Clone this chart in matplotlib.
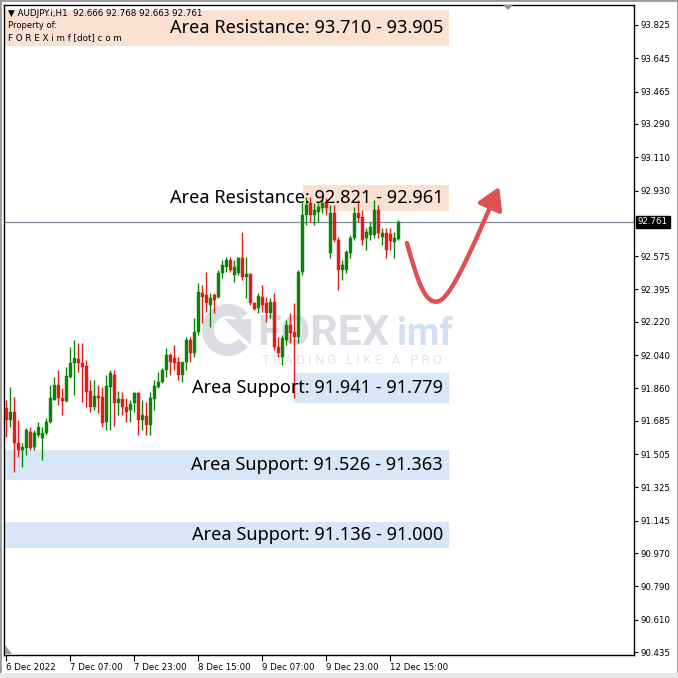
import matplotlib
matplotlib.use("Agg")
import matplotlib.pyplot as plt
from matplotlib.patches import Rectangle, FancyArrowPatch, Wedge, Polygon
from matplotlib.path import Path
from matplotlib.transforms import Affine2D, blended_transform_factory

# ---------------- data ----------------
symbol = "AUDJPY.i,H1"
header_values = "92.666 92.768 92.663 92.761"

opens = [91.754, 91.689, 91.733, 91.565, 91.527, 91.538, 91.624, 91.543, 91.608, 91.592,
         91.619, 91.679, 91.798, 91.879, 91.808, 91.792, 91.922, 91.998, 92.019, 91.998,
         91.981, 91.846, 91.760, 91.819, 91.814, 91.679, 91.868, 91.933, 91.781, 91.803,
         91.760, 91.743, 91.781, 91.835, 91.689, 91.711, 91.662, 91.803, 91.868, 91.895,
         91.960, 92.041, 92.024, 92.003, 91.933, 92.003, 92.122, 92.052, 92.165, 92.376,
         92.365, 92.311, 92.365, 92.354, 92.484, 92.516, 92.554, 92.473, 92.484, 92.565,
         92.463, 92.479, 92.322, 92.295, 92.354, 92.322, 92.268, 92.327, 92.084, 92.030,
         92.122, 92.203, 92.165, 92.138, 92.490, 92.798, 92.863, 92.798, 92.814, 92.836,
         92.868, 92.592, 92.809, 92.663, 92.500, 92.500, 92.592, 92.673, 92.809, 92.787,
         92.673, 92.690, 92.690, 92.825, 92.679, 92.700, 92.695, 92.652, 92.666]
highs = [91.798, 91.868, 91.814, 91.689, 91.565, 91.646, 91.651, 91.635, 91.679, 91.651,
         91.700, 91.879, 91.922, 91.960, 91.862, 91.976, 92.084, 92.122, 92.106, 92.106,
         92.014, 91.906, 91.906, 91.879, 91.868, 91.933, 91.960, 91.960, 91.846, 91.841,
         91.808, 91.798, 91.841, 91.841, 91.798, 91.787, 91.841, 91.906, 91.949, 91.971,
         92.079, 92.052, 92.095, 92.030, 92.003, 92.138, 92.138, 92.241, 92.430, 92.419,
         92.490, 92.376, 92.376, 92.500, 92.554, 92.571, 92.571, 92.554, 92.571, 92.706,
         92.571, 92.484, 92.327, 92.376, 92.419, 92.354, 92.349, 92.376, 92.138, 92.149,
         92.230, 92.268, 92.322, 92.500, 92.863, 92.895, 92.895, 92.863, 92.863, 92.895,
         92.890, 92.852, 92.852, 92.679, 92.554, 92.608, 92.690, 92.841, 92.879, 92.825,
         92.728, 92.760, 92.879, 92.852, 92.728, 92.728, 92.728, 92.706, 92.768]
lows = [91.597, 91.651, 91.408, 91.489, 91.435, 91.500, 91.527, 91.527, 91.597, 91.473,
        91.608, 91.673, 91.798, 91.770, 91.716, 91.787, 91.916, 91.825, 91.949, 91.787,
        91.760, 91.733, 91.743, 91.727, 91.651, 91.635, 91.635, 91.657, 91.716, 91.716,
        91.679, 91.679, 91.733, 91.608, 91.635, 91.608, 91.608, 91.743, 91.862, 91.889,
        91.922, 91.933, 91.960, 91.906, 91.895, 91.960, 92.003, 92.030, 92.149, 92.214,
        92.273, 92.192, 92.268, 92.349, 92.457, 92.490, 92.490, 92.436, 92.473, 92.446,
        92.349, 92.311, 92.284, 92.268, 92.273, 92.219, 92.241, 92.068, 92.030, 91.987,
        92.095, 92.106, 91.808, 92.106, 92.473, 92.744, 92.760, 92.744, 92.760, 92.809,
        92.798, 92.565, 92.652, 92.392, 92.446, 92.484, 92.565, 92.663, 92.760, 92.636,
        92.608, 92.663, 92.673, 92.673, 92.636, 92.565, 92.608, 92.565, 92.663]
closes = [91.689, 91.733, 91.565, 91.527, 91.543, 91.635, 91.538, 91.619, 91.651, 91.619,
          91.679, 91.808, 91.879, 91.808, 91.792, 91.927, 91.998, 92.024, 91.998, 91.976,
          91.841, 91.760, 91.819, 91.808, 91.673, 91.873, 91.944, 91.781, 91.803, 91.760,
          91.733, 91.776, 91.835, 91.689, 91.716, 91.662, 91.808, 91.873, 91.895, 91.960,
          92.041, 92.003, 91.998, 91.933, 92.003, 92.122, 92.052, 92.165, 92.381, 92.354,
          92.322, 92.349, 92.338, 92.484, 92.527, 92.554, 92.500, 92.516, 92.565, 92.463,
          92.479, 92.322, 92.290, 92.360, 92.311, 92.268, 92.327, 92.084, 92.052, 92.133,
          92.203, 92.160, 92.138, 92.490, 92.798, 92.852, 92.798, 92.825, 92.841, 92.863,
          92.836, 92.809, 92.663, 92.500, 92.527, 92.598, 92.673, 92.809, 92.782, 92.663,
          92.706, 92.733, 92.825, 92.700, 92.700, 92.608, 92.657, 92.673, 92.761]

time_tick_index = [0, 16, 32, 48, 64, 80, 96]
time_tick_labels = ["6 Dec 2022", "7 Dec 07:00", "7 Dec 23:00", "8 Dec 15:00",
                    "9 Dec 07:00", "9 Dec 23:00", "12 Dec 15:00"]
price_ticks = [93.825, 93.645, 93.465, 93.290, 93.110, 92.930, 92.575, 92.395, 92.220,
               92.040, 91.860, 91.685, 91.505, 91.325, 91.145, 90.970, 90.790, 90.610, 90.435]
current_price = 92.761

zone_kind = ["resistance", "resistance", "support", "support", "support"]
zone_low = [93.710, 92.821, 91.779, 91.363, 91.000]
zone_high = [93.905, 92.961, 91.941, 91.526, 91.136]
zone_labels = ["Area Resistance: 93.710 - 93.905", "Area Resistance: 92.821 - 92.961",
               "Area Support: 91.941 - 91.779", "Area Support: 91.526 - 91.363",
               "Area Support: 91.136 - 91.000"]

# ---------------- figure ----------------
W = H = 678
fig = plt.figure(figsize=(W / 100, H / 100), dpi=100)
fig.patch.set_facecolor("white")
ax = fig.add_axes([4 / W, (H - 655) / H, 630 / W, 650 / H])
ax.set_xlim(-0.5, 157)
ax.set_ylim(90.419, 93.933)
ax.set_facecolor("white")
PX = Affine2D().scale(1 / W, -1 / H).translate(0, 1) + fig.transFigure

# zones
box_start = [-0.5, 74.25, 72.0, -0.5, -0.5]
box_end = 110.75
for k in range(len(zone_low)):
    col = "#fbe1d2" if zone_kind[k] == "resistance" else "#d8e7f8"
    ax.add_patch(Rectangle((box_start[k], zone_low[k]), box_end - box_start[k],
                           zone_high[k] - zone_low[k], facecolor=col, edgecolor="none", zorder=1))

# watermark
wm_grey = "#dcdce5"
ax.add_patch(Wedge((228, 330), 26, 40, 320, width=12, facecolor=wm_grey, edgecolor="none",
                   transform=PX, zorder=1.5))
ax.add_patch(Polygon([(224, 319), (251, 319), (251, 345)], closed=True, facecolor=wm_grey,
                     edgecolor="none", transform=PX, zorder=1.5))
ax.text(257, 345, "FOREX", transform=PX, fontsize=31, fontweight="bold", family="Roboto",
        color=wm_grey, ha="left", va="baseline", zorder=1.5)
ax.text(397, 345, "imf", transform=PX, fontsize=27, fontweight="bold", family="Roboto",
        color="#d3e0f3", ha="left", va="baseline", zorder=1.5)
ax.text(262, 364, "T R A D I N G   L I K E   A   P R O", transform=PX, fontsize=9.4,
        family="Roboto", color="#e4e4ec", ha="left", va="baseline", zorder=1.5)

# current price line
ax.axhline(current_price, color="#7d8b99", lw=0.9, zorder=2)

# candles
green, red = "#0a850a", "#e41b1b"
for i in range(len(opens)):
    o, h, l, c = opens[i], highs[i], lows[i], closes[i]
    col = green if c >= o else red
    ax.vlines(i, l, h, color=col, lw=1.0, zorder=3)
    bot = min(o, c)
    hgt = max(abs(c - o), 0.004)
    ax.bar(i, hgt, bottom=bot, width=0.75, color=col, edgecolor=col, lw=0.3, zorder=3)

# zone labels
for k in range(len(zone_low)):
    ax.text(109.3, (zone_low[k] + zone_high[k]) / 2, zone_labels[k], fontsize=13.1,
            family="Noto Sans", color="black", ha="right", va="center", zorder=4)

# red arrow
verts = [(100.25, 92.646), (103.0, 92.43), (105.0, 92.30), (108.5, 92.335),
         (112.0, 92.37), (118.5, 92.72), (123.3, 92.95)]
codes = [Path.MOVETO, Path.CURVE4, Path.CURVE4, Path.CURVE4, Path.CURVE4, Path.CURVE4, Path.CURVE4]
arrow = FancyArrowPatch(path=Path(verts, codes), arrowstyle="-|>,head_length=5,head_width=3",
                        mutation_scale=2.6, color="#e05050", lw=3.2, zorder=5,
                        transform=ax.transData)
ax.add_patch(arrow)

# axes styling
for s in ax.spines.values():
    s.set_color("black")
    s.set_linewidth(1.0)
ax.yaxis.tick_right()
ax.set_yticks(price_ticks)
ax.set_yticklabels([f"{v:.3f}" for v in price_ticks], family="DejaVu Sans", fontsize=6.2)
ax.tick_params(axis="y", direction="out", length=3, width=0.8, pad=2, colors="black")
ax.set_xticks(time_tick_index)
ax.set_xticklabels(time_tick_labels, family="DejaVu Sans", fontsize=6.2, ha="left")
ax.tick_params(axis="x", direction="out", length=4, width=0.8, pad=2, colors="black")

# current price tag
tr = blended_transform_factory(ax.transAxes, ax.transData)
ax.text(1.006, current_price, f"{current_price:.3f}", transform=tr, fontsize=6.2,
        family="DejaVu Sans", color="white", ha="left", va="center", zorder=6,
        bbox=dict(boxstyle="square,pad=0.2", facecolor="black", edgecolor="black"),
        clip_on=False)

# header
ax.text(8, 13, "\u25BC " + symbol + "  " + header_values, transform=PX, fontsize=6.3,
        family="DejaVu Sans", color="black", ha="left", va="center", zorder=6)
ax.text(8, 26, "Property of:", transform=PX, fontsize=6.0, family="DejaVu Sans",
        color="black", ha="left", va="center", zorder=6)
ax.text(8, 38, "F O R E X i m f [dot] c o m", transform=PX, fontsize=6.3, family="DejaVu Sans",
        color="black", ha="left", va="center", zorder=6)

# small MT4 markers
fig.patches.append(Polygon([(503, 5), (513, 5), (508, 10)], closed=True, facecolor="#8a9aaa",
                           edgecolor="none", transform=PX))
fig.patches.append(Polygon([(5, 645), (5, 654), (12, 654)], closed=True, facecolor="#9a9a9a",
                           edgecolor="none", transform=PX))
# window border
fig.patches.append(Rectangle((0, 0), 1, 1, transform=fig.transFigure, fill=False,
                             edgecolor="#9a9a9a", lw=2))
fig.patches.append(Rectangle((0, 0), 1, 5 / H, transform=fig.transFigure, facecolor="#e8e8e8",
                             edgecolor="none"))

fig.savefig("out.png", dpi=100, facecolor="white")
